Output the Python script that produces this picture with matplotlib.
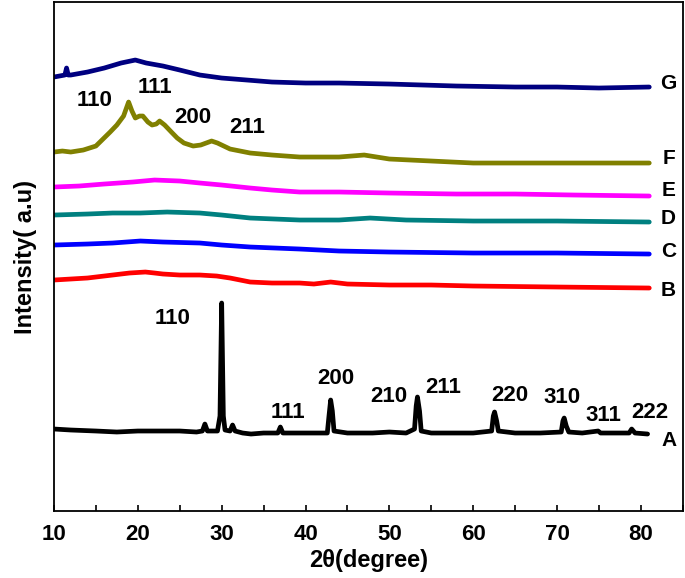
import matplotlib
matplotlib.use("Agg")
import matplotlib.pyplot as plt
from matplotlib.ticker import MultipleLocator

plt.rcParams['font.family'] = ['Liberation Sans', 'DejaVu Sans']
plt.rcParams['font.weight'] = 'bold'

# XRD patterns, intensity in arbitrary units (stacked offsets as in the figure)
a_x = [10, 12, 15, 17.5, 20, 23, 25, 27, 27.7, 28.0, 28.3, 29.5, 29.8, 30.0, 30.2, 30.4,
       31.0, 31.3, 31.6, 32.5, 33.5, 35, 36.7, 37.0, 37.3, 40, 42.6, 42.8, 43.0, 43.2, 43.4,
       45, 48, 50, 52, 53.0, 53.2, 53.35, 53.6, 53.8, 55, 58, 60, 62.2, 62.4, 62.55, 62.8,
       63.0, 65, 68, 70.5, 70.7, 70.85, 71.1, 71.4, 73, 74.9, 75.2, 77, 78.6, 78.9, 79.3, 80.8]
a_y = [82, 81, 80, 79, 80, 80, 80, 79, 80, 87, 80, 80, 95, 208, 95, 81,
       80, 86, 80, 78, 77, 78, 78, 84, 78, 78, 78, 95, 111, 100, 80,
       78, 78, 79, 78, 82, 105, 114, 100, 80, 78, 78, 78, 80, 95, 99, 90,
       80, 78, 78, 79, 90, 93, 85, 79, 78, 80, 78, 78, 78, 82, 78, 77]

b_x = [10, 12, 14, 17, 19, 20.9, 22, 23, 25, 27.4, 29.4, 31, 33.4, 36, 39.3, 41, 43, 45, 50, 55, 60, 70, 81]
b_y = [231, 232, 233, 236, 238, 239, 238, 237, 236, 236, 235, 233, 229, 228, 228, 227, 229, 227, 226, 226, 225, 224, 223]

c_x = [10, 14, 17, 20.3, 23, 27.4, 30, 33.4, 39.3, 44, 50, 60, 70, 81]
c_y = [266, 267, 268, 270, 269, 268, 266, 264, 262, 260, 259, 258, 258, 257]

d_x = [10, 14, 17, 20.3, 23.5, 27.4, 30, 33.4, 39.3, 44, 47.7, 52, 60, 70, 81]
d_y = [296, 297, 298, 298, 299, 298, 296, 293, 291, 291, 293, 291, 290, 290, 289]

e_x = [10, 13, 16, 19.4, 22, 25, 27.4, 30, 33.4, 36, 39.3, 44, 50, 58, 65, 72, 81]
e_y = [324, 325, 327, 329, 331, 330, 328, 326, 323, 321, 319, 319, 318, 317, 317, 316, 315]

f_x = [10, 11, 12, 13.5, 15, 16.7, 17.5, 18.3, 18.9, 19.3, 19.7, 20.2, 20.6, 21.2, 21.7,
       22.2, 22.6, 23.2, 24, 24.7, 25.5, 26.6, 27.5, 28.8, 29.5, 31, 33.4, 36, 39.3, 42,
       44, 47, 50, 55, 60, 65, 70, 75, 81]
f_y = [359, 360, 359, 361, 365, 379, 386, 395, 409, 400, 393, 395, 395, 389, 386,
       387, 390, 386, 379, 373, 368, 365, 366, 370, 368, 362, 358, 356, 354, 354,
       354, 356, 352, 350, 348, 348, 348, 348, 348]

g_x = [10, 11.3, 11.5, 11.7, 12, 14, 16, 18, 19.7, 21, 23, 25, 27.4, 30, 33, 36, 40, 44,
       50, 58, 65, 70, 75, 81]
g_y = [434, 436, 443, 436, 436, 439, 443, 448, 451, 448, 445, 441, 436, 433, 431, 429, 428, 428,
       427, 425, 424, 424, 423, 424]

series = [
    (a_x, a_y, 'black', 'A', 71),
    (b_x, b_y, '#ff0000', 'B', 221),
    (c_x, c_y, '#0000ff', 'C', 260),
    (d_x, d_y, '#008080', 'D', 293),
    (e_x, e_y, '#ff00ff', 'E', 321),
    (f_x, f_y, '#808000', 'F', 353),
    (g_x, g_y, '#000080', 'G', 428),
]

# hkl labels
a_hkl = ['110', '111', '200', '210', '211', '220', '310', '311', '222']
a_hkl_x = [24.2, 37.9, 43.6, 49.9, 56.4, 64.4, 70.6, 75.5, 81.1]
a_hkl_y = [193, 99, 133, 115, 124, 116, 114, 96, 99]

f_hkl = ['110', '111', '200', '211']
f_hkl_x = [14.9, 22.0, 26.5, 33.1]
f_hkl_y = [411, 424, 394, 384]

fig = plt.figure(figsize=(6.85, 5.78), dpi=100)
ax = fig.add_axes([0.0788, 0.1159, 0.918, 0.8806])

for xs, ys, col, name, ly in series:
    ax.plot(xs, ys, color=col, lw=3.4, solid_joinstyle='round', solid_capstyle='round')
    ax.text(83.3, ly, name, ha='center', va='center', fontsize=15, fontweight='bold')

for t, x, y in zip(a_hkl, a_hkl_x, a_hkl_y):
    ax.text(x, y, t, ha='center', va='center', fontsize=16, fontweight='bold')
for t, x, y in zip(f_hkl, f_hkl_x, f_hkl_y):
    ax.text(x, y, t, ha='center', va='center', fontsize=16, fontweight='bold')

ax.set_xlim(10, 85)
ax.set_ylim(0, 509)
ax.xaxis.set_major_locator(MultipleLocator(10))
ax.xaxis.set_minor_locator(MultipleLocator(5))
ax.set_xticks([10, 20, 30, 40, 50, 60, 70, 80])
ax.tick_params(axis='x', which='both', direction='in', length=4, width=1.2,
               labelsize=16, pad=9)
ax.set_yticks([])
for s in ax.spines.values():
    s.set_linewidth(1.3)

ax.set_xlabel('2θ(degree)', fontsize=17, fontweight='bold', labelpad=3)
ax.set_ylabel('Intensity( a.u)', fontsize=17, fontweight='bold', labelpad=12)

fig.savefig('out.png', dpi=100)
